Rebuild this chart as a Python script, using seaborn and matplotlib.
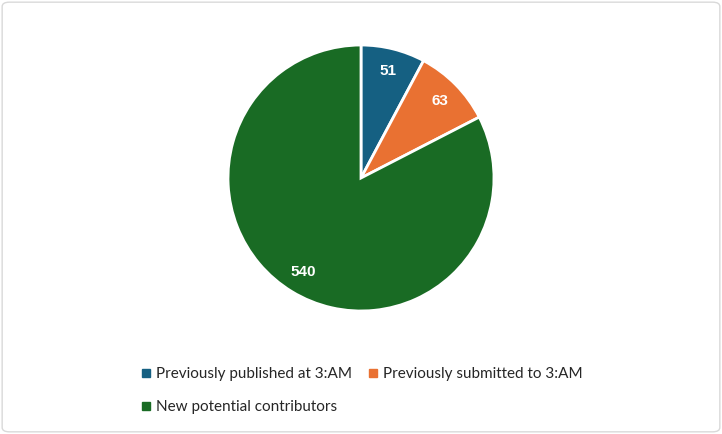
import matplotlib
matplotlib.use("Agg")
import matplotlib.pyplot as plt
from matplotlib.patches import FancyBboxPatch
from matplotlib.lines import Line2D
import seaborn as sns

categories = ["Previously published at 3:AM", "Previously submitted to 3:AM", "New potential contributors"]
values = [51, 63, 540]
colors = ["#156082", "#E97132", "#196B24"]

sns.set_theme(style="white")
plt.rcParams['font.family'] = ['Lato', 'DejaVu Sans']
palette = sns.color_palette(colors)

fig = plt.figure(figsize=(7.22, 4.34), dpi=100)
ax = fig.add_axes([0.3158, 0.2834, 0.3684, 0.6129])
wedges, texts = ax.pie(values, colors=palette, startangle=90, counterclock=False,
                       labels=[str(v) for v in values], labeldistance=0.83,
                       wedgeprops=dict(edgecolor="white", linewidth=2),
                       textprops=dict(color="white", fontsize=11, fontweight="bold",
                                      family=["Liberation Sans", "DejaVu Sans"]))
for t in texts:
    t.set_horizontalalignment("center")
    t.set_verticalalignment("center")
ax.set_xlim(-1.0, 1.0)
ax.set_ylim(-1.0, 1.0)
ax.set_aspect("equal")
ax.axis("off")

handles = [Line2D([0], [0], marker="s", color="none", markerfacecolor=c, markeredgecolor=c,
                  markersize=5.5) for c in palette]
order = [0, 2, 1]
leg = fig.legend([handles[i] for i in order], [categories[i] for i in order],
                 ncol=2, loc="center", bbox_to_anchor=(0.5, 0.1), frameon=False,
                 fontsize=11, labelspacing=1.25, columnspacing=0.9, handletextpad=0.2,
                 handlelength=0.9)
for txt in leg.get_texts():
    txt.set_color("#262626")

border = FancyBboxPatch((0.003, 0.005), 0.994, 0.99, boxstyle="round,pad=0,rounding_size=0.01",
                        transform=fig.transFigure, facecolor="none", edgecolor="#D9D9D9", linewidth=1)
fig.patches.append(border)

fig.savefig("out.png", dpi=100)
